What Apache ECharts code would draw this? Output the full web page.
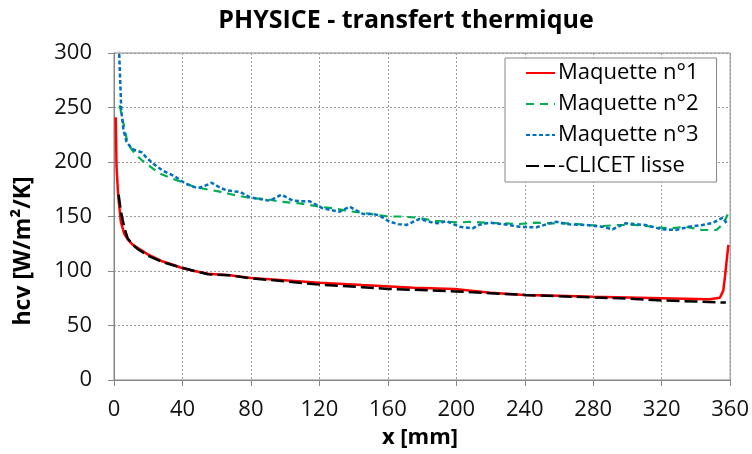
<!DOCTYPE html>
<html>
<head>
<meta charset="utf-8">
<script src="https://cdn.jsdelivr.net/npm/echarts@6/dist/echarts.min.js"></script>
<style>
  html, body { margin: 0; padding: 0; background: #fff; }
  #chart { width: 752px; height: 454px; }
</style>
</head>
<body>
<div id="chart"></div>
<script>
// x positions [mm] and hcv values [W/m²/K]
const m1X = [1, 1.5, 2.5, 4, 6, 8, 11, 14, 20, 28, 35, 40, 47, 55, 67.7, 80, 97, 120, 145, 175, 199, 200, 220, 240, 260, 280, 300, 320, 340, 348, 354, 356, 357, 358, 359];
const m1Y = [241, 195, 168, 145, 134, 129, 124, 121, 115, 109, 105.5, 102.5, 100, 97.5, 96, 93.5, 91.7, 89.3, 87.2, 84.7, 83.5, 81.8, 80, 78, 77.2, 76.4, 75.7, 75, 74.3, 74, 75.5, 82, 95, 110, 124];

const m2X = [3.3, 5.3, 8, 12, 16, 21, 26, 32, 37, 41, 47, 54, 61, 69.5, 79.4, 89, 97, 108.5, 120, 128, 137, 147, 160, 167, 177, 188, 202, 208, 217.5, 227, 237, 246.6, 256, 266, 276, 285.5, 295, 305, 314.6, 324.4, 334, 343.8, 352, 356.3, 358, 360];
const m2Y = [252, 237, 217, 208, 202, 196, 190, 186, 183, 181, 177, 175, 173, 170, 167, 166, 163.6, 162, 159, 157.5, 155, 153, 150, 150, 149, 146, 144.5, 145.2, 144.3, 143.7, 143.1, 144.3, 143.7, 143.7, 142.2, 141.3, 142.2, 142.2, 140.6, 139.1, 140.6, 137.6, 137.6, 143.7, 150, 157];

const m3X = [2.9, 4.3, 5.5, 7.2, 10, 12, 16, 19, 21.8, 25, 28.6, 35.4, 41, 45, 49, 53, 57, 62.4, 66, 70.4, 73.5, 79.4, 85, 91, 97.8, 104.6, 110, 114.3, 122, 131.8, 137.7, 145.5, 151.3, 155, 161, 166, 170.8, 178.5, 186.3, 190.2, 194, 202, 209.6, 213.5, 219.4, 227, 236.9, 246.6, 252, 258.3, 266, 275.8, 285.5, 291.3, 298.8, 310.4, 320.5, 328.3, 336, 343.8, 349.7, 355.8, 358.7];
const m3Y = [305, 246, 230, 219, 213, 211, 209, 204, 200, 196, 192, 187, 181, 178, 176, 178, 181, 176, 174, 173, 172.7, 167.6, 166, 164.5, 170, 164.5, 164, 164, 157.5, 154.4, 159, 152.3, 152.3, 151, 145.2, 143, 142.2, 147.7, 144.3, 143.7, 145.9, 140.6, 139.1, 142.5, 144.3, 143.1, 140.6, 140, 142.5, 145.2, 142.8, 142.2, 140.6, 138.2, 143.7, 142.2, 138.2, 137.6, 140.6, 142.2, 144, 149, 142];

const cliX = [2.7, 4, 6, 8, 11, 14, 20, 28, 35, 40, 47, 55, 67.7, 80, 100, 120, 145, 160, 175, 200, 220, 240, 260, 280, 300, 320, 340, 357.5];
const cliY = [170, 155, 140, 130, 124, 120, 114, 108.5, 105, 103, 100, 97, 96, 93.3, 90.5, 87.5, 85.2, 83.5, 82.8, 81.2, 79.6, 78, 76.8, 75.8, 74.6, 73, 72, 71];

const xTicks = [0, 40, 80, 120, 160, 200, 240, 280, 320, 360];
const yTicks = [0, 50, 100, 150, 200, 250, 300];

const pairs = (xs, ys) => xs.map((x, i) => [x, ys[i]]);

const FONT = "'Open Sans', 'Noto Sans', sans-serif";
const chart = echarts.init(document.getElementById("chart"), null, { renderer: "canvas" });

chart.setOption({
  animation: false,
  backgroundColor: "#fff",
  // plot area with the thin grey frame
  grid: {
    left: 114, top: 53, width: 617, height: 327,
    show: true, borderColor: "#868686", borderWidth: 1,
    containLabel: false
  },
  graphic: [
    {
      type: "text", x: 406, y: 21,
      style: {
        text: "PHYSICE - transfert thermique", align: "center", verticalAlign: "middle",
        font: "bold 25px " + FONT, fill: "#000"
      }
    },
    {
      type: "text", x: 23, y: 251, rotation: Math.PI / 2,
      style: {
        text: "hcv [W/m²/K]", align: "center", verticalAlign: "middle",
        font: "bold 23px " + FONT, fill: "#000"
      }
    },
    {
      type: "text", x: 420, y: 438,
      style: {
        text: "x [mm]", align: "center", verticalAlign: "middle",
        font: "bold 22px " + FONT, fill: "#000"
      }
    }
  ],
  legend: {
    orient: "vertical",
    left: 505, top: 58,
    padding: [4, 18, 5, 20],
    itemGap: 9,
    itemWidth: 29,
    itemHeight: 14,
    backgroundColor: "#fff",
    borderColor: "#868686",
    borderWidth: 1,
    itemStyle: { opacity: 0 },
    textStyle: { fontFamily: FONT, fontSize: 22, color: "#000", padding: [0, 0, 0, -2] },
    data: ["Maquette n°1", "Maquette n°2", "Maquette n°3", "CLICET lisse"],
    formatter: (n) => (n === "CLICET lisse" ? "-" + n : n)
  },
  xAxis: {
    type: "value", min: 0, max: 360, interval: 40,
    axisLine: { show: true, lineStyle: { color: "#868686", width: 1 } },
    axisTick: { show: true, length: 6, lineStyle: { color: "#868686" } },
    axisLabel: {
      margin: 19, fontFamily: FONT, fontSize: 22, color: "#111",
      formatter: (v) => (xTicks.includes(v) ? String(v) : "")
    },
    splitLine: { show: true, lineStyle: { color: "#999", type: [2, 2], width: 1 } }
  },
  yAxis: {
    type: "value", min: 0, max: 300, interval: 50,
    axisLine: { show: true, lineStyle: { color: "#868686", width: 1 } },
    axisTick: { show: true, length: 6, lineStyle: { color: "#868686" } },
    axisLabel: {
      margin: 22, fontFamily: FONT, fontSize: 22, color: "#111",
      formatter: (v) => (yTicks.includes(v) ? String(v) : "")
    },
    splitLine: { show: true, lineStyle: { color: "#999", type: [2, 2], width: 1 } }
  },
  series: [
    {
      name: "Maquette n°1", type: "line", showSymbol: false, symbol: "none", symbolSize: 0,
      data: pairs(m1X, m1Y), color: "#FF0000",
      lineStyle: { color: "#FF0000", width: 2.5 }
    },
    {
      name: "Maquette n°2", type: "line", showSymbol: false, symbol: "none", symbolSize: 0,
      data: pairs(m2X, m2Y), color: "#00B050",
      lineStyle: { color: "#00B050", width: 2.2, type: [8, 6] }
    },
    {
      name: "Maquette n°3", type: "line", showSymbol: false, symbol: "none", symbolSize: 0,
      data: pairs(m3X, m3Y), color: "#0070C0",
      lineStyle: { color: "#0070C0", width: 2.5, type: [4, 2.5] }
    },
    {
      name: "CLICET lisse", type: "line", showSymbol: false, symbol: "none", symbolSize: 0,
      data: pairs(cliX, cliY), color: "#000",
      lineStyle: { color: "#000", width: 2.5, type: [13, 5] }
    }
  ]
});
</script>
</body>
</html>
